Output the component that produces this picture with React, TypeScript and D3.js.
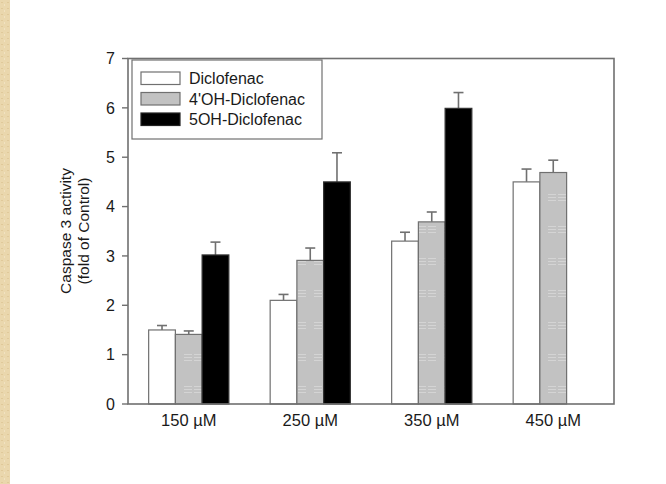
import React from "react";
import * as d3 from "d3";

const categories = ["150 µM", "250 µM", "350 µM", "450 µM"];
const seriesNames = ["Diclofenac", "4'OH-Diclofenac", "5OH-Diclofenac"];
const diclofenac = [1.5, 2.1, 3.3, 4.5];
const diclofenacErr = [0.09, 0.12, 0.18, 0.26];
const oh4 = [1.41, 2.91, 3.69, 4.69];
const oh4Err = [0.07, 0.25, 0.2, 0.25];
const oh5 = [3.02, 4.5, 5.99, null];
const oh5Err = [0.26, 0.59, 0.32, null];
const yTicks = [0, 1, 2, 3, 4, 5, 6, 7];

const W = 666, H = 484;
const L = 128, R = 614, T = 58.5, B = 404;
const FONT = "Arial, 'Liberation Sans', Helvetica, sans-serif";

export default function App() {
  const x = d3.scaleBand<string>().domain(categories).range([L, R]).paddingInner(0.34).paddingOuter(0.17);
  const xs = d3.scaleBand<number>().domain([0, 1, 2]).range([0, x.bandwidth()]);
  const y = d3.scaleLinear().domain([0, 7]).range([B, T]);
  const series = [
    { vals: diclofenac, errs: diclofenacErr, fill: "#ffffff" },
    { vals: oh4, errs: oh4Err, fill: "url(#grayPat)" },
    { vals: oh5, errs: oh5Err, fill: "#000000" },
  ];
  const axisColor = "#707070";
  const textColor = "#1a1a1a";
  return (
    <svg width={W} height={H} style={{ position: "absolute", left: 0, top: 0, background: "#fff" }}>
      <defs>
        <pattern id="grayPat" width="26" height="32" patternUnits="userSpaceOnUse">
          <rect width="26" height="32" fill="#c2c2c2" />
          <g stroke="#d4d4d4" strokeWidth="1">
            <line x1="2" x2="10" y1="2.5" y2="2.5" />
            <line x1="12" x2="20" y1="2.5" y2="2.5" />
            <line x1="2" x2="10" y1="5.5" y2="5.5" />
            <line x1="12" x2="20" y1="5.5" y2="5.5" />
            <line x1="2" x2="10" y1="8.5" y2="8.5" />
            <line x1="12" x2="20" y1="8.5" y2="8.5" />
          </g>
        </pattern>
        <pattern id="beige" width="6" height="6" patternUnits="userSpaceOnUse">
          <rect width="6" height="6" fill="#ead7ad" />
          <rect x="1" y="2" width="2" height="1" fill="#e0c99a" />
          <rect x="4" y="4" width="1" height="2" fill="#f1e2c1" />
        </pattern>
      </defs>
      <rect x={0} y={0} width={W} height={H} fill="#fff" />
      <rect x={0} y={0} width={10} height={H} fill="url(#beige)" />

      {categories.map((c, i) => (
        <g key={c}>
          {series.map((s, j) => {
            const v = s.vals[i];
            if (v == null) return null;
            const x0 = (x(c) as number) + (xs(j) as number);
            const bw = xs.bandwidth();
            const e = s.errs[i] as number;
            const cx = x0 + bw / 2;
            return (
              <g key={j}>
                <line x1={cx} x2={cx} y1={y(v)} y2={y(v + e)} stroke={axisColor} strokeWidth={1.6} />
                <line x1={cx - 5} x2={cx + 5} y1={y(v + e)} y2={y(v + e)} stroke={axisColor} strokeWidth={1.6} />
                <rect x={x0} y={y(v)} width={bw} height={B - y(v)} fill={s.fill} stroke={j === 2 ? "#333" : axisColor} strokeWidth={1.2} />
              </g>
            );
          })}
        </g>
      ))}

      <rect x={L} y={T} width={R - L} height={B - T} fill="none" stroke={axisColor} strokeWidth={1.6} />

      {yTicks.map((t) => (
        <g key={t}>
          <line x1={L - 6} x2={L} y1={y(t)} y2={y(t)} stroke={axisColor} strokeWidth={1.4} />
          <text x={L - 13} y={y(t)} dy="0.36em" textAnchor="end" fontFamily={FONT} fontSize={16} fill={textColor}>{t}</text>
        </g>
      ))}

      {categories.map((c) => (
        <text key={c} x={(x(c) as number) + x.bandwidth() / 2} y={B + 22} textAnchor="middle" fontFamily={FONT} fontSize={16.5} fill={textColor}>{c}</text>
      ))}

      <g transform={`translate(71, 231) rotate(-90)`}>
        <text x={0} y={0} textAnchor="middle" fontFamily={FONT} fontSize={15.5} fill={textColor}>Caspase 3 activity</text>
        <text x={0} y={18} textAnchor="middle" fontFamily={FONT} fontSize={15.5} fill={textColor}>(fold of Control)</text>
      </g>

      <rect x={132} y={60} width={190} height={79} fill="#fff" stroke={axisColor} strokeWidth={1.2} />
      {seriesNames.map((n, j) => (
        <g key={n}>
          <rect x={141} y={72 + j * 20.5} width={39} height={12.5} fill={j === 1 ? "#c2c2c2" : series[j].fill} stroke={j === 2 ? "#222" : axisColor} strokeWidth={1.2} />
          <text x={189} y={78.5 + j * 20.5} dy="0.36em" fontFamily={FONT} fontSize={16} fill={textColor}>{n}</text>
        </g>
      ))}
    </svg>
  );
}
